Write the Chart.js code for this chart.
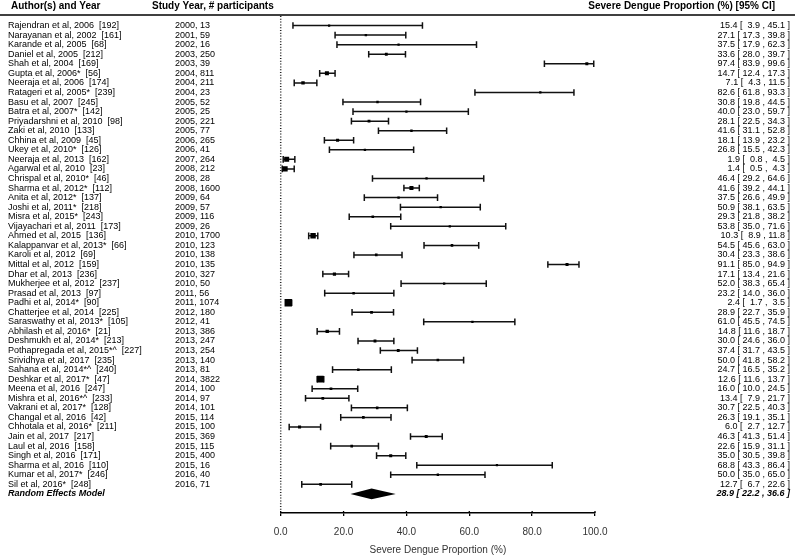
<!DOCTYPE html>
<html>
<head>
<meta charset="utf-8">
<script src="https://cdn.jsdelivr.net/npm/chart.js@4.4.1/dist/chart.umd.min.js"></script>
<style>body{margin:0;background:#fff}</style>
</head>
<body>
<canvas id="myChart" width="800" height="557"></canvas>
<script>
// Study labels and values
const authors = [
    'Rajendran et al, 2006  [192]', 'Narayanan et al, 2002  [161]', 'Karande et al, 2005  [68]',
    'Daniel et al, 2005  [212]', 'Shah et al, 2004  [169]', 'Gupta et al, 2006*  [56]',
    'Neeraja et al, 2006  [174]', 'Ratageri et al, 2005*  [239]', 'Basu et al, 2007  [245]',
    'Batra et al, 2007*  [142]', 'Priyadarshni et al, 2010  [98]', 'Zaki et al, 2010  [133]',
    'Chhina et al, 2009  [45]', 'Ukey et al, 2010*  [126]', 'Neeraja et al, 2013  [162]',
    'Agarwal et al, 2010  [23]', 'Chrispal et al, 2010*  [46]', 'Sharma et al, 2012*  [112]',
    'Anita et al, 2012*  [137]', 'Joshi et al, 2011*  [218]', 'Misra et al, 2015*  [243]',
    'Vijayachari et al, 2011  [173]', 'Ahmed et al, 2015  [136]', 'Kalappanvar et al, 2013*  [66]',
    'Karoli et al, 2012  [69]', 'Mittal et al, 2012  [159]', 'Dhar et al, 2013  [236]',
    'Mukherjee et al, 2012  [237]', 'Prasad et al, 2013  [97]', 'Padhi et al, 2014*  [90]',
    'Chatterjee et al, 2014  [225]', 'Saraswathy et al, 2013*  [105]', 'Abhilash et al, 2016*  [21]',
    'Deshmukh et al, 2014*  [213]', 'Pothapregada et al, 2015*^  [227]', 'Srividhya et al, 2017  [235]',
    'Sahana et al, 2014*^  [240]', 'Deshkar et al, 2017*  [47]', 'Meena et al, 2016  [247]',
    'Mishra et al, 2016*^  [233]', 'Vakrani et al, 2017*  [128]', 'Changal et al, 2016  [42]',
    'Chhotala et al, 2016*  [211]', 'Jain et al, 2017  [217]', 'Laul et al, 2016  [158]',
    'Singh et al, 2016  [171]', 'Sharma et al, 2016  [110]', 'Kumar et al, 2017*  [246]',
    'Sil et al, 2016*  [248]'
];
const studyYears = [2000, 2001, 2002, 2003, 2003, 2004, 2004, 2004, 2005, 2005, 2005, 2005, 2006, 2006, 2007, 2008, 2008, 2008,
    2009, 2009, 2009, 2009, 2010, 2010, 2010, 2010, 2010, 2010, 2011, 2011, 2012, 2012, 2013, 2013, 2013, 2013, 2013,
    2014, 2014, 2014, 2014, 2015, 2015, 2015, 2015, 2015, 2015, 2016, 2016];
const participants = [13, 59, 16, 250, 39, 811, 211, 23, 52, 25, 221, 77, 265, 41, 264, 212, 28, 1600,
    64, 57, 116, 26, 1700, 123, 138, 135, 327, 50, 56, 1074, 180, 41, 386, 247, 254, 140, 81,
    3822, 100, 97, 101, 114, 100, 369, 115, 400, 16, 40, 71];
const estimates = [15.4, 27.1, 37.5, 33.6, 97.4, 14.7, 7.1, 82.6, 30.8, 40.0, 28.1, 41.6, 18.1, 26.8, 1.9, 1.4, 46.4, 41.6,
    37.5, 50.9, 29.3, 53.8, 10.3, 54.5, 30.4, 91.1, 17.1, 52.0, 23.2, 2.4, 28.9, 61.0, 14.8, 30.0, 37.4, 50.0, 24.7,
    12.6, 16.0, 13.4, 30.7, 26.3, 6.0, 46.3, 22.6, 35.0, 68.8, 50.0, 12.7];
const lowerCI = [3.9, 17.3, 17.9, 28.0, 83.9, 12.4, 4.3, 61.8, 19.8, 23.0, 22.5, 31.1, 13.9, 15.5, 0.8, 0.5, 29.2, 39.2,
    26.6, 38.1, 21.8, 35.0, 8.9, 45.6, 23.3, 85.0, 13.4, 38.3, 14.0, 1.7, 22.7, 45.5, 11.6, 24.6, 31.7, 41.8, 16.5,
    11.6, 10.0, 7.9, 22.5, 19.1, 2.7, 41.3, 15.9, 30.5, 43.3, 35.0, 6.7];
const upperCI = [45.1, 39.8, 62.3, 39.7, 99.6, 17.3, 11.5, 93.3, 44.5, 59.7, 34.3, 52.8, 23.2, 42.3, 4.5, 4.3, 64.6, 44.1,
    49.9, 63.5, 38.2, 71.6, 11.8, 63.0, 38.6, 94.9, 21.6, 65.4, 36.0, 3.5, 35.9, 74.5, 18.7, 36.0, 43.5, 58.2, 35.2,
    13.7, 24.5, 21.7, 40.3, 35.1, 12.7, 51.4, 31.1, 39.8, 86.4, 65.0, 22.6];
const pooledLabel = 'Random Effects Model';
const pooled = { est: 28.9, lo: 22.2, hi: 36.6 };
const xTicks = [0, 20, 40, 60, 80, 100];

const FONT = "'Liberation Sans', Arial, sans-serif";
const nRows = authors.length;

// square size grows with study precision (inverse SE of the proportion)
const precision = estimates.map((p, i) => {
    const f = p / 100;
    return 1 / Math.sqrt(f * (1 - f) / participants[i]);
});
const pMin = Math.min(...precision), pMax = Math.max(...precision);
function squareSide(i) {
    return 2.2 + (precision[i] - pMin) / (pMax - pMin) * 5.2;
}

const pad4 = v => v.toFixed(1).padStart(4, ' ');
const ciText = (e, l, h) => e.toFixed(1) + ' [ ' + pad4(l) + ' , ' + pad4(h) + ' ]';

const forestPlugin = {
    id: 'forest',
    beforeDatasetsDraw(chart) {
        const ctx = chart.ctx;
        const xs = chart.scales.x, ys = chart.scales.y;
        ctx.save();
        // dotted reference line at 0
        ctx.strokeStyle = '#222';
        ctx.lineWidth = 1.5;
        ctx.setLineDash([1, 1.8]);
        ctx.beginPath();
        ctx.moveTo(xs.getPixelForValue(0), chart.chartArea.top);
        ctx.lineTo(xs.getPixelForValue(0), chart.chartArea.bottom - 3);
        ctx.stroke();
        ctx.setLineDash([]);
        // confidence intervals
        ctx.strokeStyle = '#111';
        ctx.lineWidth = 1.5;
        for (let i = 0; i < nRows; i++) {
            const y = ys.getPixelForValue(i);
            const x1 = xs.getPixelForValue(lowerCI[i]);
            const x2 = xs.getPixelForValue(upperCI[i]);
            ctx.beginPath();
            ctx.moveTo(x1, y); ctx.lineTo(x2, y);
            ctx.moveTo(x1, y - 3.3); ctx.lineTo(x1, y + 3.3);
            ctx.moveTo(x2, y - 3.3); ctx.lineTo(x2, y + 3.3);
            ctx.stroke();
        }
        ctx.restore();
    },
    afterDraw(chart) {
        const ctx = chart.ctx;
        const xs = chart.scales.x, ys = chart.scales.y;
        ctx.save();
        // small upward tick marks on the axis
        ctx.strokeStyle = '#000';
        ctx.lineWidth = 1.3;
        ctx.beginPath();
        xTicks.forEach(v => {
            const x = xs.getPixelForValue(v);
            ctx.moveTo(x, chart.chartArea.bottom);
            ctx.lineTo(x, chart.chartArea.bottom - 2);
        });
        ctx.stroke();

        // header
        ctx.fillStyle = '#000';
        ctx.textBaseline = 'middle';
        ctx.font = 'bold 10px ' + FONT;
        ctx.textAlign = 'left';
        ctx.fillText('Author(s) and Year', 11, 6);
        ctx.fillText('Study Year, # participants', 152, 6);
        ctx.textAlign = 'right';
        ctx.fillText('Severe Dengue Proportion (%) [95% CI]', 775, 6);
        ctx.strokeStyle = '#000';
        ctx.lineWidth = 1.5;
        ctx.beginPath();
        ctx.moveTo(0, 15); ctx.lineTo(795, 15);
        ctx.stroke();

        // rows
        ctx.font = '9px ' + FONT;
        ctx.fillStyle = '#000';
        for (let i = 0; i < nRows; i++) {
            const y = ys.getPixelForValue(i);
            ctx.textAlign = 'left';
            ctx.fillText(authors[i], 8, y);
            ctx.fillText(studyYears[i] + ', ' + participants[i], 175, y);
            ctx.textAlign = 'right';
            ctx.fillText(ciText(estimates[i], lowerCI[i], upperCI[i]), 790, y);
        }

        // pooled estimate
        const yp = ys.getPixelForValue(nRows);
        ctx.font = 'italic bold 9px ' + FONT;
        ctx.textAlign = 'left';
        ctx.fillText(pooledLabel, 8, yp);
        ctx.textAlign = 'right';
        ctx.fillText(ciText(pooled.est, pooled.lo, pooled.hi), 790, yp);
        ctx.beginPath();
        ctx.moveTo(xs.getPixelForValue(pooled.lo), yp);
        ctx.lineTo(xs.getPixelForValue(pooled.est), yp - 5.3);
        ctx.lineTo(xs.getPixelForValue(pooled.hi), yp);
        ctx.lineTo(xs.getPixelForValue(pooled.est), yp + 5.3);
        ctx.closePath();
        ctx.fill();
        ctx.restore();
    }
};

const ctx = document.getElementById('myChart').getContext('2d');
const myChart = new Chart(ctx, {
    type: 'scatter',
    data: {
        datasets: [{
            label: 'Severe Dengue Proportion',
            data: estimates.map((v, i) => ({ x: v, y: i })),
            pointStyle: 'rect',
            pointRadius: c => squareSide(c.dataIndex) / Math.SQRT2,
            backgroundColor: '#000',
            borderColor: '#000',
            borderWidth: 0
        }]
    },
    options: {
        responsive: false,
        animation: false,
        layout: { padding: { left: 280.7, right: 205, top: 16, bottom: 0 } },
        scales: {
            x: {
                type: 'linear',
                min: 0,
                max: 100,
                afterBuildTicks: s => { s.ticks = xTicks.map(v => ({ value: v })); },
                afterFit: s => { s.height = 44; },
                ticks: {
                    callback: v => Number(v).toFixed(1),
                    color: '#333',
                    font: { family: FONT, size: 10 },
                    padding: 10,
                    maxRotation: 0
                },
                grid: {
                    drawOnChartArea: false,
                    drawTicks: true,
                    tickLength: 3,
                    color: '#000',
                    lineWidth: 1.3
                },
                border: { color: '#000', width: 1.5 },
                title: {
                    display: true,
                    text: 'Severe Dengue Proportion (%)',
                    color: '#333',
                    font: { family: FONT, size: 10 },
                    padding: { top: 0, bottom: 1 }
                }
            },
            y: {
                type: 'linear',
                display: false,
                reverse: true,
                min: -1,
                max: 51
            }
        },
        plugins: {
            legend: { display: false },
            tooltip: { enabled: false }
        }
    },
    plugins: [forestPlugin]
});
</script>
</body>
</html>
